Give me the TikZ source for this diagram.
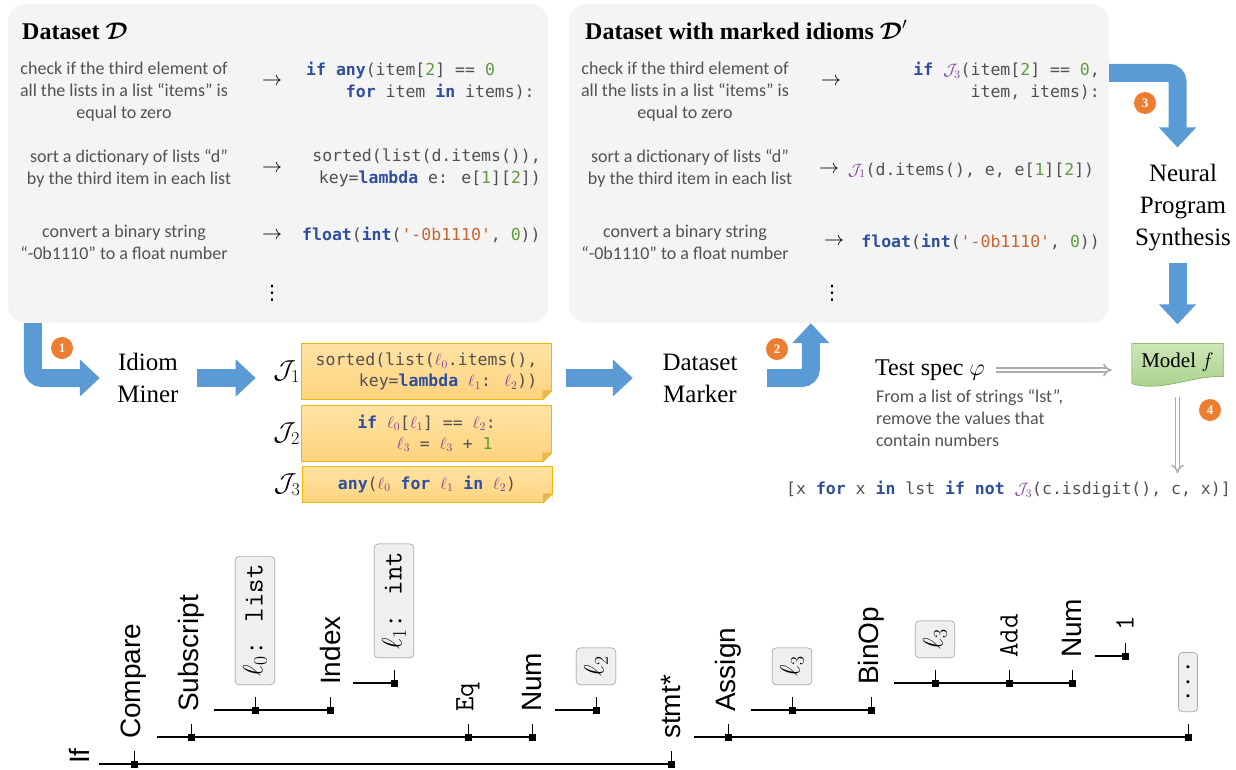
\RequirePackage{fix-cm}
\documentclass[tikz,border=0pt]{standalone}
\usepackage{amsmath,amssymb}
\usepackage{fontspec}
\setmainfont{Liberation Serif}
\setsansfont{Liberation Sans}
\newfontfamily\descfont{Carlito}
\newfontfamily\codefont{DejaVu Sans Mono}
\newfontfamily\symfont{DejaVu Sans}
\usetikzlibrary{arrows.meta,positioning}

\definecolor{boxgray}{HTML}{F4F4F4}
\definecolor{flowblue}{HTML}{5B9BD5}
\definecolor{badgeorange}{HTML}{ED7D31}
\definecolor{kwblue}{HTML}{2E4E9E}
\definecolor{numgreen}{HTML}{5E9C3C}
\definecolor{strorange}{HTML}{C8642D}
\definecolor{varpurple}{HTML}{7D3C98}
\definecolor{codegray}{HTML}{505050}
\definecolor{descgray}{HTML}{525252}
\definecolor{noteA}{HTML}{FFE3A3}
\definecolor{noteB}{HTML}{FFD37E}
\definecolor{noteline}{HTML}{F2B705}
\definecolor{notefold}{HTML}{E8B45A}
\definecolor{modelA}{HTML}{CDE6B8}
\definecolor{modelB}{HTML}{A5CF88}
\definecolor{modelline}{HTML}{8CBF6A}
\definecolor{holefill}{HTML}{EFEFEF}

\newcommand{\kw}[1]{\textbf{\color{kwblue}#1}}
\newcommand{\cn}[1]{{\color{numgreen}#1}}
\newcommand{\cstr}[1]{{\color{strorange}#1}}
\newcommand{\lv}[1]{{\color{varpurple}$\ell_{#1}$}}
\newcommand{\idm}[1]{{\color{varpurple}$\mathcal{J}_{#1}$}}
\newcommand{\sq}{\textquotesingle}

\begin{document}
\begin{tikzpicture}[x=1pt, y=-1pt,
	panel/.style={fill=boxgray, rounded corners=18pt, minimum width=540pt, minimum height=319pt, inner sep=0pt},
	paneltitle/.style={font=\bfseries\fontsize{24}{28}\selectfont, anchor=base west, inner sep=0pt},
	desc/.style={font=\descfont\fontsize{18}{22}\selectfont, text=descgray, align=center, inner sep=0pt},
	codetxt/.style={font=\codefont\fontsize{16.5}{22}\selectfont, text=codegray, inner sep=0pt},
	maparrow/.style={font=\fontsize{20}{20}\selectfont, inner sep=0pt},
	bigtxt/.style={font=\fontsize{25}{32}\selectfont, align=center, inner sep=2pt},
	flowarrow/.style={draw=flowblue, line width=18pt, rounded corners=9pt, -{Triangle[width=36pt, length=20pt]}},
	badge/.style={circle, fill=badgeorange, text=white, font=\bfseries\fontsize{13}{13}\selectfont, minimum size=22pt, inner sep=0pt},
	note/.style={top color=noteA, bottom color=noteB, draw=noteline, line width=0.8pt, minimum width=250pt, inner sep=0pt, font=\codefont\fontsize{16.5}{21}\selectfont, text=codegray},
	jlab/.style={font=\fontsize{26}{26}\selectfont, inner sep=1pt},
	specarrow/.style={draw=gray!65, double=white, double distance=2.6pt, line width=1.6pt, -{Implies}},
	mk/.style={fill=black, inner sep=0pt, minimum size=7pt},
	tlab/.style={rotate=90, anchor=west, inner sep=0pt, font=\sffamily\fontsize{28}{28}\selectfont},
	ttlab/.style={tlab, font=\ttfamily\fontsize{28}{28}\selectfont},
	hole/.style={rotate=90, anchor=west, draw=gray, fill=holefill, rounded corners=4pt, inner sep=8pt, font=\ttfamily\fontsize{28}{28}\selectfont},
	stem/.style={line width=0.8pt, shorten >=11.5pt},
	sibline/.style={line width=1.2pt}]
	\useasboundingbox (0,0) rectangle (1236,769);

	\node[panel] (ds) at (278,163.5) {};
	\node[paneltitle] (dstitle) at (22,39) {Dataset $\boldsymbol{\mathcal{D}}$};
	\node[desc] (qa) at (124,92) {check if the third element of\\all the lists in a list “items” is\\equal to zero};
	\node[maparrow] (ra) at (272,82) {$\rightarrow$};
	\node[codetxt, anchor=west, align=left] (pa) at (306,81) {\kw{if} \kw{any}(item[\cn{2}] == \cn{0}\\\phantom{xxxx}\kw{for} item \kw{in} items):};
	\node[desc] (qb) at (129,168) {sort a dictionary of lists “d”\\by the third item in each list};
	\node[maparrow] (rb) at (272,169) {$\rightarrow$};
	\node[codetxt, anchor=east, align=right] (pb) at (541,168) {sorted(list(d.items()),\\key=\kw{lambda} e: e[\cn{1}][\cn{2}])};
	\node[desc] (qc) at (124,242) {convert a binary string\\“-0b1110” to a float number};
	\node[maparrow] (rc) at (272,236) {$\rightarrow$};
	\node[codetxt, anchor=west] (pc) at (302,235) {\kw{float}(\kw{int}(\cstr{\sq-0b1110\sq}, \cn{0}))};
	\node[maparrow, font=\symfont\fontsize{20}{20}\selectfont] (va) at (272,293) {⋮};

	\begin{scope}[xshift=561pt]
		\node[panel] (dsm) at (278,163.5) {};
		\node[paneltitle] (dsmtitle) at (24,39) {Dataset with marked idioms $\boldsymbol{\mathcal{D}}'$};
		\node[desc] (qd) at (124,92) {check if the third element of\\all the lists in a list “items” is\\equal to zero};
		\node[maparrow] (rd) at (270,82) {$\rightarrow$};
		\node[codetxt, anchor=east, align=right] (pd) at (539,81) {\kw{if} \idm{3}(item[\cn{2}] == \cn{0},\\item, items):};
		\node[desc] (qe) at (129,168) {sort a dictionary of lists “d”\\by the third item in each list};
		\node[maparrow] (re) at (268,170) {$\rightarrow$};
		\node[codetxt, anchor=west] (pe) at (287,170) {\idm{1}(d.items(), e, e[\cn{1}][\cn{2}])};
		\node[desc] (qf) at (124,242) {convert a binary string\\“-0b1110” to a float number};
		\node[maparrow] (rf) at (273,242) {$\rightarrow$};
		\node[codetxt, anchor=east] (pf) at (539,242) {\kw{float}(\kw{int}(\cstr{\sq-0b1110\sq}, \cn{0}))};
		\node[maparrow, font=\symfont\fontsize{20}{20}\selectfont] (vb) at (271,293) {⋮};
	\end{scope}

	\node[bigtxt] (miner) at (148,378) {Idiom\\Miner};
	\node[note, minimum height=56pt, align=right] (J1) at (426.5,371.5) {sorted(list(\lv{0}.items(),\\key=\kw{lambda} \lv{1}: \lv{2}))};
	\node[note, minimum height=56pt, align=left] (J2) at (426.5,433.5) {\kw{if} \lv{0}[\lv{1}] == \lv{2}:\\\phantom{xxxx}\lv{3} = \lv{3} + \cn{1}};
	\node[note, minimum height=36pt] (J3) at (427,484.5) {\kw{any}(\lv{0} \kw{for} \lv{1} \kw{in} \lv{2})};
	\foreach \j in {J1,J2,J3}{
		\fill[white] ([xshift=-9pt]\j.south east) -- ([shift={(0.6pt,-0.6pt)}]\j.south east) -- ([yshift=9pt]\j.south east) -- cycle;
		\filldraw[fill=notefold, draw=noteline, line width=0.5pt] ([xshift=-9pt]\j.south east) -- ([yshift=9pt]\j.south east) -- ([shift={(-9pt,9pt)}]\j.south east) -- cycle;
	}
	\node[jlab, left=0pt of J1] (J1lab) {$\mathcal{J}_1$};
	\node[jlab, left=0pt of J2] (J2lab) {$\mathcal{J}_2$};
	\node[jlab, left=0pt of J3] (J3lab) {$\mathcal{J}_3$};
	\node[bigtxt] (marker) at (700,378) {Dataset\\Marker};
	\node[bigtxt] (nps) at (1183,208) {Neural\\Program\\Synthesis};

	\node[minimum width=91pt, minimum height=37pt, inner sep=0pt] (model) at (1177.5,362) {};
	\filldraw[top color=modelA, bottom color=modelB, draw=modelline, line width=0.6pt] (model.north west) -- (model.north east) -- ([yshift=4pt]model.south east) .. controls ([shift={(-30pt,6pt)}]model.south east) and ([shift={(30pt,-12pt)}]model.south west) .. ([yshift=-3pt]model.south west) -- cycle;
	\node[font=\fontsize{21}{21}\selectfont, inner sep=0pt] (modeltxt) at (model.center) {Model $f$};
	\node[bigtxt, font=\fontsize{24}{24}\selectfont] (spec) at (930,370) {Test spec $\varphi$};
	\node[desc, align=left, anchor=north west] (specdesc) at (876,389) {From a list of strings “lst”,\\remove the values that\\contain numbers};
	\node[codetxt, anchor=east] (res) at (1231,490) {[x \kw{for} x \kw{in} lst \kw{if} \kw{not} \idm{3}(c.isdigit(), c, x)]};

	\draw[flowarrow, shorten >=15.5pt] ([xshift=25pt]ds.south west) |- (miner.west);
	\draw[flowarrow, shorten <=16.5pt, shorten >=16.5pt] (miner.east) -- (miner.east -| J1lab.west);
	\draw[flowarrow, shorten <=14.5pt, shorten >=27.5pt] (J1.east |- marker.west) -- (marker.west);
	\draw[flowarrow, shorten <=27.5pt] (marker.east) -| ([xshift=242pt]dsm.south west);
	\draw[flowarrow, shorten >=15pt] ([yshift=-69pt]dsm.north east) -| (model.north |- nps.north);
	\draw[flowarrow, shorten <=9pt, shorten >=19pt] (nps.south -| model.north) -- (model.north);
	\draw[specarrow, shorten <=9pt, shorten >=20pt] (spec.east) -- (spec.east -| model.west);
	\draw[specarrow, shorten <=16pt, shorten >=8pt] (model.south) -- (model.south |- res.north);

	\node[badge] (ba) at (62,348) {1};
	\node[badge] (bb) at (777,349) {2};
	\node[badge] (bc) at (1145,103) {3};
	\node[badge] (bd) at (1210,410) {4};

	\node[tlab, anchor=south west] (ifn) at (90,764) {If};
	\foreach \n/\x/\y/\s/\t in {cmp/134/764/tlab/Compare, stmt/671/764/tlab/stmt*, sub/191/737/tlab/Subscript, eq/468/737/ttlab/Eq, numa/532/737/tlab/Num, lzero/255/710/hole/{$\ell_0$: list}, idx/330/710/tlab/Index, lone/394/683/hole/{$\ell_1$: int}, ltwo/596/710/hole/{$\ell_2$}, asg/728/737/tlab/Assign, dots/1188/737/hole/{...}, lthra/792/710/hole/{$\ell_3$}, bop/871/710/tlab/BinOp, lthrb/935/683/hole/{$\ell_3$}, add/1009/683/ttlab/Add, numb/1072/683/tlab/Num, one/1125/656/ttlab/1}{
		\node[mk] (m-\n) at (\x,\y) {};
		\node[\s] (\n) at (\x,\y-25) {\t};
		\draw[stem] (m-\n.center) -- (\n.west);
	}
	\draw[sibline] ([xshift=9pt]ifn.south west) -- (m-stmt.center);
	\foreach \p/\c in {cmp/numa, sub/idx, idx/lone, numa/ltwo, stmt/dots, asg/bop, bop/numb, numb/one}
		\draw[sibline] ([shift={(23pt,27pt)}]m-\p.center) -- (m-\c.center);
\end{tikzpicture}
\end{document}
